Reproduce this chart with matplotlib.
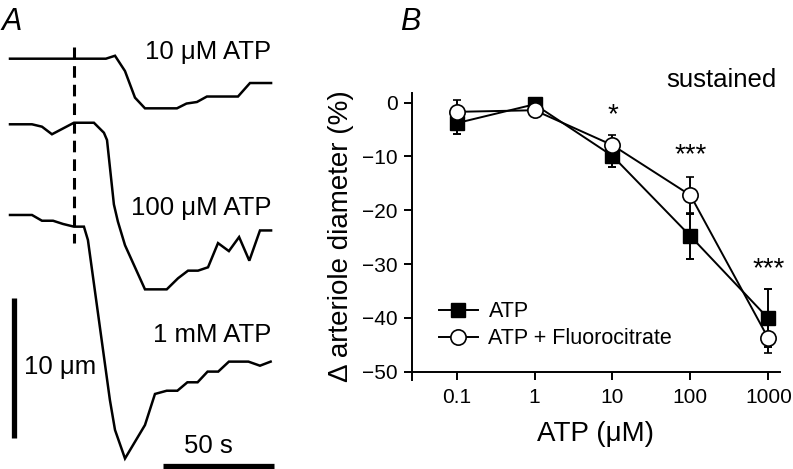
import numpy as np
import matplotlib.pyplot as plt

plt.rcParams['font.family'] = ['Liberation Sans', 'DejaVu Sans']

# ---- panel A: diameter traces (time in s, change in diameter in um) ----
t_10uM = [0, 43.2, 47.3, 51.8, 56.3, 60.8, 75.2, 79.5, 84.2, 88.7, 102.7, 108.1, 117.6]
d_10uM = [0, 0, 0.21, -0.88, -2.77, -3.53, -3.53, -3.19, -3.08, -2.69, -2.69, -1.73, -1.73]

t_100uM = [0, 9.9, 14.4, 18.9, 28.8, 37.8, 42.3, 43.7, 46.8, 48.6, 51.8, 60.8, 70.6,
           75.7, 80.2, 84.7, 89.2, 93.7, 98.6, 103.2, 107.8, 112.6, 117.6]
d_100uM = [0, 0, -0.17, -0.71, 0.11, 0.11, -0.60, -1.12, -5.70, -6.92, -8.60, -11.74, -11.74,
           -10.95, -10.41, -10.41, -10.17, -8.45, -9.02, -8.02, -9.70, -7.55, -7.55]

t_1mM = [0, 9.9, 14.4, 19.4, 23.9, 28.8, 33.3, 35.1, 45.0, 47.3, 51.8, 60.8, 65.3,
         70.6, 75.4, 79.9, 84.5, 89.0, 93.8, 98.6, 107.4, 112.6, 117.4]
d_1mM = [0, 0, -0.41, -0.41, -0.64, -0.83, -0.83, -1.78, -13.16, -15.29, -17.32, -14.94, -12.73,
         -12.50, -12.50, -11.90, -11.90, -11.14, -11.14, -10.43, -10.43, -10.72, -10.43]

trace_labels = ["10 μM ATP", "100 μM ATP", "1 mM ATP"]

# ---- panel B: dose response ----
conc = [0.1, 1, 10, 100, 1000]
atp_mean = [-3.8, -0.3, -9.9, -24.8, -40.1]
atp_err = [2.1, 0.6, 2.1, 4.2, 5.4]
fluo_mean = [-1.7, -1.4, -7.9, -17.2, -43.8]
fluo_err = [2.2, 0.5, 1.9, 3.3, 2.8]
stars = ["", "", "*", "***", "***"]

W, H = 793, 469
fig = plt.figure(figsize=(W / 100, H / 100), dpi=100)

# panel A axes spans the left part; limits map 2.22 px/s and 14.06 px/um
axA = fig.add_axes([0, 0, 280 / W, 1])
axA.set_xlim(-10 / 2.22, 270 / 2.22)
axA.set_ylim(-H / 14.06, 0)
axA.axis("off")

offsets = [-4.175, -8.84, -15.29]
for (t, d), off in zip([(t_10uM, d_10uM), (t_100uM, d_100uM), (t_1mM, d_1mM)], offsets):
    axA.plot(t, np.array(d) + off, color="black", lw=1.8, solid_joinstyle="miter")

axA.plot([28.8, 28.8], [-3.34, -17.28], color="black", lw=2.2, dashes=(3.8, 2.3))

# scale bars
axA.plot([1.8, 1.8], [-21.17, -31.17], color="black", lw=3.8, solid_capstyle="butt")
axA.plot([68.9, 118.9], [-33.12, -33.12], color="black", lw=3.8, solid_capstyle="butt")
axA.text(6.3, -26.1, "10 μm", fontsize=18.5, va="center", ha="left")
axA.text(89.5, -31.75, "50 s", fontsize=18.5, va="center", ha="center")

label_y = [-3.7, -14.8, -23.8]
for lab, y in zip(trace_labels, label_y):
    axA.text(117.6, y, lab, fontsize=18.5, ha="right", va="center")

fig.text(2 / W, 1 - 22 / H, "A", fontsize=22, style="italic", va="center", ha="left")
fig.text(400 / W, 1 - 22 / H, "B", fontsize=22, style="italic", va="center", ha="left")

# panel B (y axis runs a little below the x axis, as in the original)
ppu = 5.38
y_lo, y_hi = -51.5, 1.8
bottom_px = 371.7 + (-50 - y_lo) * ppu
axB = fig.add_axes([411.7 / W, (H - bottom_px) / H, (780 - 411.7) / W,
                    (y_hi - y_lo) * ppu / H])
axB.set_xscale("log")
axB.set_xlim(10 ** -1.577, 10 ** 3.15)
axB.set_ylim(y_lo, y_hi)

eb1 = axB.errorbar(conc, atp_mean, yerr=atp_err, color="black", marker="s", ms=10.5,
                   mfc="black", mec="black", lw=1.4, capsize=3, capthick=1.4,
                   elinewidth=1.4, zorder=2)
eb2 = axB.errorbar(conc, fluo_mean, yerr=fluo_err, color="black", marker="o", ms=11,
                   mfc="white", mec="black", mew=1.2, lw=1.4, capsize=3, capthick=1.4,
                   elinewidth=1.4, zorder=3)

star_y = [0, 0, -2.4, -9.8, -30.9]
for x, s, y in zip(conc, stars, star_y):
    if s:
        axB.text(x, y, s, fontsize=20, ha="center", va="center")

axB.text(10 ** 3.1, 4.2, "sustained", fontsize=18.5, ha="right", va="center", clip_on=False)

axB.set_yticks([0, -10, -20, -30, -40, -50])
axB.set_xticks(conc)
axB.set_xticklabels(["0.1", "1", "10", "100", "1000"])
axB.minorticks_off()
axB.tick_params(axis="both", direction="out", length=6, width=1.4, labelsize=15, pad=4)
axB.tick_params(axis="x", pad=6)
axB.spines["bottom"].set_position(("data", -50))
for side in ["top", "right"]:
    axB.spines[side].set_visible(False)
for side in ["left", "bottom"]:
    axB.spines[side].set_linewidth(1.4)

axB.set_xlabel("ATP (μM)", fontsize=20, labelpad=10)
axB.set_ylabel("Δ arteriole diameter (%)", fontsize=20, labelpad=6)

axB.legend([eb1[0], eb2[0]], ["ATP", "ATP + Fluorocitrate"], loc="center left",
           bbox_to_anchor=(0.074, 0.19), frameon=False, fontsize=15.5,
           handlelength=1.8, handletextpad=0.5, labelspacing=0.28,
           borderpad=0, borderaxespad=0)

fig.savefig("out.png", dpi=100)
